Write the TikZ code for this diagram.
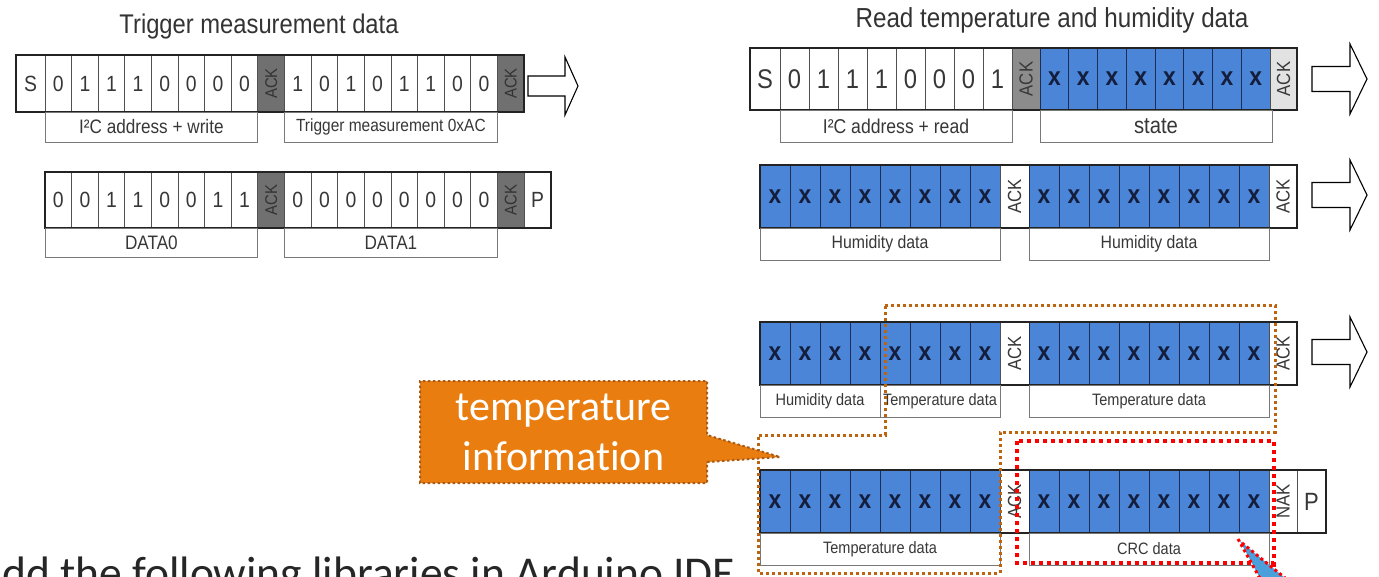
\documentclass[tikz,border=0pt]{standalone}
\usepackage{fontspec}
\usepackage{graphicx}
\setmainfont{Liberation Sans}
\newfontfamily\nar[FakeStretch=0.88]{Liberation Sans}
\newfontfamily\calfont[Ligatures=NoCommon]{Carlito}
\usetikzlibrary{shapes.callouts}
\definecolor{cellblue}{RGB}{75,133,215}
\definecolor{navy}{RGB}{30,45,85}
\definecolor{xtxt}{RGB}{20,30,60}
\definecolor{txt}{RGB}{55,55,55}
\definecolor{divgray}{RGB}{80,80,80}
\definecolor{labgray}{RGB}{120,120,120}
\definecolor{rowline}{RGB}{35,35,35}
\definecolor{ackdark}{RGB}{112,112,112}
\definecolor{ackmid}{RGB}{140,140,140}
\definecolor{acklight}{RGB}{226,226,226}
\definecolor{dotorange}{RGB}{190,100,15}
\definecolor{callfill}{RGB}{233,125,15}
\definecolor{callline}{RGB}{170,90,20}
\definecolor{wedgeblue}{RGB}{75,160,220}
\begin{document}
\begin{tikzpicture}[x=1pt,y=-1pt,
  cellL/.style={draw=divgray, line width=0.8pt, minimum width=26.6pt, minimum height=57pt, inner sep=0pt, font={\nar\fontsize{22}{22}\selectfont}, text=txt},
  ackL/.style={cellL, fill=ackdark, minimum width=26.7pt, font={\nar\fontsize{17}{17}\selectfont}, text=black!80},
  cellR/.style={draw=divgray, line width=0.8pt, minimum width=29pt, minimum height=62pt, inner sep=0pt, font={\nar\fontsize{27}{27}\selectfont}, text=txt},
  bitB/.style={draw=navy, fill=cellblue, line width=0.8pt, minimum width=30pt, minimum height=63pt, inner sep=0pt, font={\nar\bfseries\fontsize{26}{26}\selectfont}, text=xtxt},
  ackR/.style={draw=divgray, fill=white, line width=0.8pt, minimum width=28pt, minimum height=63pt, inner sep=0pt, font={\nar\fontsize{19}{19}\selectfont}, text=txt},
  lab/.style={draw=labgray, line width=0.8pt, inner sep=0pt, font={\nar\fontsize{19.5}{19.5}\selectfont}, text=txt},
  labS/.style={lab, minimum height=32pt, font={\nar\fontsize{16.5}{16.5}\selectfont}},
  rowbox/.style={draw=rowline, line width=1.8pt},
  hollow/.style={draw=black, fill=white, line width=1.1pt, line join=miter},
  orangedots/.style={draw=dotorange, line width=3pt, dash pattern=on 3pt off 3pt},
  reddots/.style={draw=red, line width=4pt, dash pattern=on 4pt off 4pt},
  title/.style={font={\nar\fontsize{27}{27}\selectfont}, text=black!80, inner sep=0pt, anchor=base}
]
\useasboundingbox (0,0) rectangle (1379,576);
\clip (0,0) rectangle (1379,576);

%================ LEFT PANEL ================
\node[title] (ltitle) at (259,33) {Trigger measurement data};

% Row L1
\node[cellL, minimum width=29pt] (l1s) at (30.5,83.5) {S};
\foreach \t [count=\i from 0] in {0,1,1,1,0,0,0,0}
  \node[cellL] (l1a\i) at ({45+26.6*(\i+0.5)},83.5) {\t};
\node[ackL] (l1k1) at (271.15,83.5) {\rotatebox{90}{ACK}};
\foreach \t [count=\i from 0] in {1,0,1,0,1,1,0,0}
  \node[cellL] (l1b\i) at ({284.5+26.6*(\i+0.5)},83.5) {\t};
\node[ackL] (l1k2) at (510.65,83.5) {\rotatebox{90}{ACK}};
\draw[rowbox] (16,55) rectangle (524,112);
\node[lab, minimum width=212.8pt, minimum height=30pt] (l1lab1) at (151.4,127) {I²C address + write};
\node[lab, minimum width=212.8pt, minimum height=30pt, font={\nar\fontsize{17.6}{17.6}\selectfont}] (l1lab2) at (390.9,127) {Trigger measurement 0xAC};
\draw[hollow] (528,76) -- (565,76) -- (565,57) -- (578,86) -- (565,115) -- (565,96) -- (528,96) -- cycle;

% Row L2
\foreach \t [count=\i from 0] in {0,0,1,1,0,0,1,1}
  \node[cellL, minimum height=56pt] (l2a\i) at ({45+26.6*(\i+0.5)},200) {\t};
\node[ackL, minimum height=56pt] (l2k1) at (271.15,200) {\rotatebox{90}{ACK}};
\foreach \t [count=\i from 0] in {0,0,0,0,0,0,0,0}
  \node[cellL, minimum height=56pt] (l2b\i) at ({284.5+26.6*(\i+0.5)},200) {\t};
\node[ackL, minimum height=56pt] (l2k2) at (510.65,200) {\rotatebox{90}{ACK}};
\node[cellL, minimum height=56pt, minimum width=27pt] (l2p) at (537.5,200) {P};
\draw[rowbox] (45,172) rectangle (551,228);
\node[lab, minimum width=212.8pt, minimum height=29pt] (l2lab1) at (151.4,242.5) {DATA0};
\node[lab, minimum width=212.8pt, minimum height=29pt] (l2lab2) at (390.9,242.5) {DATA1};

%================ RIGHT PANEL ================
\node[title, font={\nar\fontsize{27.5}{27.5}\selectfont}] (rtitle) at (1052,27) {Read temperature and humidity data};

% Row R1
\node[cellR, minimum width=30pt] (r1s) at (765,79) {S};
\foreach \t [count=\i from 0] in {0,1,1,1,0,0,0,1}
  \node[cellR] (r1a\i) at ({780+29*(\i+0.5)},79) {\t};
\node[ackR, fill=ackmid, minimum height=62pt] (r1k1) at (1026,79) {\rotatebox{90}{ACK}};
\foreach \i in {0,...,7}
  \node[bitB, minimum width=28.75pt, minimum height=62pt] (r1b\i) at ({1040+28.75*(\i+0.5)},79) {x};
\node[ackR, fill=acklight, minimum width=27pt, minimum height=62pt] (r1k2) at (1283.5,79) {\rotatebox{90}{ACK}};
\draw[rowbox] (750,48) rectangle (1297,110);
\node[lab, minimum width=232pt, minimum height=32pt, font={\nar\fontsize{20}{20}\selectfont}] (r1lab1) at (896,126) {I²C address + read};
\node[lab, minimum width=232pt, minimum height=32pt, font={\nar\fontsize{23}{23}\selectfont}] (r1lab2) at (1156,126) {state};
\draw[hollow] (1312,66.5) -- (1350,66.5) -- (1350,44) -- (1367,79) -- (1350,114) -- (1350,91.5) -- (1312,91.5) -- cycle;

% Row R2
\foreach \i in {0,...,7}
  \node[bitB] (r2a\i) at ({760+30*(\i+0.5)},196.5) {x};
\node[ackR, minimum width=29pt] (r2k1) at (1014.5,196.5) {\rotatebox{90}{ACK}};
\foreach \i in {0,...,7}
  \node[bitB] (r2b\i) at ({1029+30*(\i+0.5)},196.5) {x};
\node[ackR] (r2k2) at (1283,196.5) {\rotatebox{90}{ACK}};
\draw[rowbox] (760,165) rectangle (1297,228);
\node[labS, minimum width=240pt, font={\nar\fontsize{18}{18}\selectfont}] (r2lab1) at (880,244) {Humidity data};
\node[labS, minimum width=240pt, font={\nar\fontsize{18}{18}\selectfont}] (r2lab2) at (1149,244) {Humidity data};
\draw[hollow] (1312,182.5) -- (1350,182.5) -- (1350,160) -- (1367,195) -- (1350,230) -- (1350,207.5) -- (1312,207.5) -- cycle;

% Row R3
\foreach \i in {0,...,7}
  \node[bitB] (r3a\i) at ({760+30*(\i+0.5)},353.5) {x};
\node[ackR, minimum width=29pt] (r3k1) at (1014.5,353.5) {\rotatebox{90}{ACK}};
\foreach \i in {0,...,7}
  \node[bitB] (r3b\i) at ({1029+30*(\i+0.5)},353.5) {x};
\node[ackR] (r3k2) at (1283,353.5) {\rotatebox{90}{ACK}};
\draw[rowbox] (760,322) rectangle (1297,385);
\node[labS, minimum width=120pt] (r3lab1) at (820,401) {Humidity data};
\node[labS, minimum width=120pt] (r3lab2) at (940,401) {Temperature data};
\node[labS, minimum width=240pt] (r3lab3) at (1149,401) {Temperature data};
\draw[hollow] (1312,339.5) -- (1350,339.5) -- (1350,317) -- (1367,352) -- (1350,387) -- (1350,364.5) -- (1312,364.5) -- cycle;

% Row R4
\foreach \i in {0,...,7}
  \node[bitB] (r4a\i) at ({760+30*(\i+0.5)},501.5) {x};
\node[ackR, minimum width=29pt] (r4k1) at (1014.5,501.5) {\rotatebox{90}{ACK}};
\foreach \i in {0,...,7}
  \node[bitB] (r4b\i) at ({1029+30*(\i+0.5)},501.5) {x};
\node[ackR] (r4nak) at (1283,501.5) {\rotatebox{90}{NAK}};
\node[ackR, minimum width=29pt, font={\nar\fontsize{25}{25}\selectfont}] (r4p) at (1311.5,501.5) {P};
\draw[rowbox] (760,470) rectangle (1326,533);
\node[labS, minimum width=240pt] (r4lab1) at (880,549) {Temperature data};
\node[labS, minimum width=240pt] (r4lab2) at (1149,549) {CRC data};

%================ HIGHLIGHTS ================
\draw[orangedots] (885,305) -- (1275,305) -- (1275,432) -- (1000,432) -- (1000,573) -- (758,573) -- (758,435) -- (885,435) -- cycle;
\draw[reddots] (1017,441) rectangle (1274,563);
\draw[reddots] (1274,563) -- (1274,580);
\fill[wedgeblue] (1240,541) -- (1290,582) -- (1262,582) -- cycle;
\draw[draw=red, line width=3pt, dash pattern=on 3pt off 3pt] (1238,539) -- (1262,582);
\draw[draw=red, line width=3pt, dash pattern=on 3pt off 3pt] (1242,543) -- (1290,582);

\node[rectangle callout, callout absolute pointer={(780,457)}, callout pointer width=27pt,
  fill=callfill, draw=callline, line width=2pt, dash pattern=on 2.5pt off 2.5pt,
  minimum width=287pt, minimum height=102pt, inner sep=0pt, align=center,
  text=white, font={\calfont\fontsize{42}{50}\selectfont}] (callout) at (563.5,432) {temperature\\information};

\node[anchor=base west, inner sep=0pt, text=black!85, font={\calfont\fontsize{45.5}{45.5}\selectfont}] (bottomtext) at (2,588) {dd the following libraries in Arduino IDE};
\end{tikzpicture}
\end{document}
